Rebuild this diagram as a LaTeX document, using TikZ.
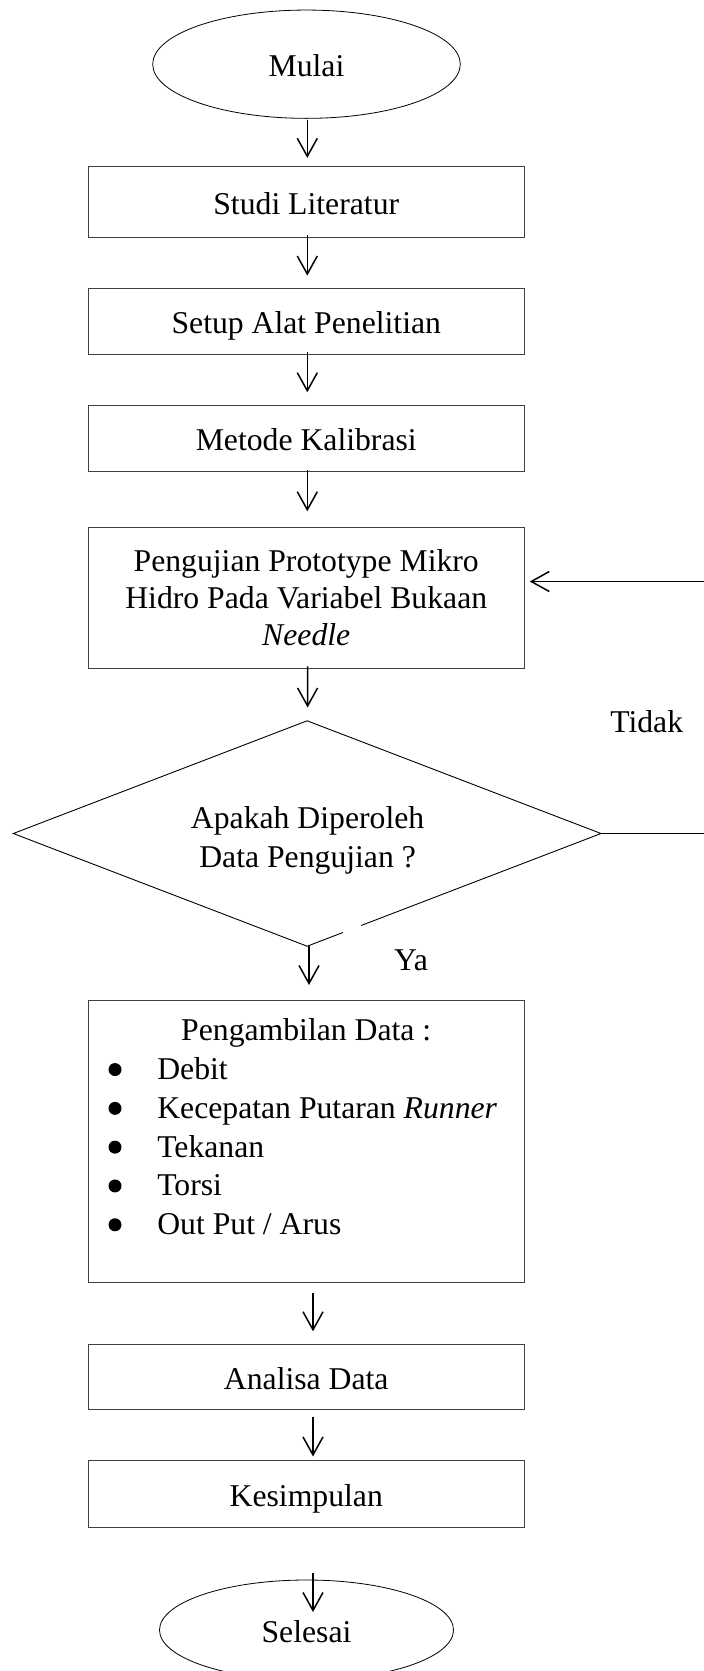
\documentclass[tikz,border=0pt]{standalone}
\usepackage{fontspec}
\setmainfont{Liberation Serif}
\usetikzlibrary{arrows.meta,shapes.geometric,calc}
\newcommand\bigbul{\tikz[baseline=0pt]\fill[black] (0pt,10pt) circle[radius=6.5pt];}
\newcommand\bul[1]{\par\noindent\hspace*{26.5pt}\makebox[0pt][c]{\bigbul}\hspace*{42.3pt}#1}
\begin{document}
\begin{tikzpicture}[x=1pt,y=-1pt,
  font=\fontsize{31.7}{38.5}\selectfont,
  box/.style={draw=black!75, line width=0.9pt, minimum width=435.5pt, inner sep=0pt, align=center},
  oval/.style={ellipse, draw=black, line width=0.8pt, inner sep=0pt},
  one/.style={text height=31.4pt, text depth=7pt},
  arr/.style={line width=1.5pt, -{Straight Barb[length=18pt,width=20pt,line width=1.5pt]}},
  thinline/.style={line width=0.9pt, line join=miter}
]
\useasboundingbox (0,0) rectangle (704,1671);
\fill[white] (0,0) rectangle (704,1671);

% nodes
\node[oval, minimum width=307.6pt, minimum height=108.3pt, one] (m) at (306.5,64.2) {Mulai};
\node[box, minimum height=71pt, one] (b1) at (306.25,202.2) {Studi Literatur};
\node[box, minimum height=66pt, one] (b2) at (306.25,321.3) {Setup Alat Penelitian};
\node[box, minimum height=66pt, one] (b3) at (306.25,438) {Metode Kalibrasi};
\node[box, minimum height=141pt, font=\fontsize{31.7}{36.7}\selectfont] (b4) at (306.25,597.8)
  {Pengujian Prototype Mikro\\Hidro Pada Variabel Bukaan\\\textit{Needle}};
\node[diamond, minimum width=587.3pt, minimum height=225pt, inner sep=0pt] (d) at (307.15,833.5) {};
\node[align=center, font=\fontsize{31.7}{38.7}\selectfont, inner sep=0pt] (dt) at (307.6,840.5)
  {Apakah Diperoleh\\Data Pengujian ?};
\node[box, anchor=north, align=left] (b5) at (306.25,1000) {%
  \begin{minipage}[t][282pt][t]{435.5pt}
  \fontsize{31.7}{38.8}\selectfont
  \vspace*{18.3pt}
  {\centering Pengambilan Data :\par}
  \bul{Debit}
  \bul{Kecepatan Putaran \textit{Runner}}
  \bul{Tekanan}
  \bul{Torsi}
  \bul{Out Put / Arus}\par
  \end{minipage}};
\node[box, minimum height=65.7pt, one] (b6) at (306.25,1376.9) {Analisa Data};
\node[box, minimum height=67pt, one] (b7) at (306.25,1493.9) {Kesimpulan};
\node[oval, minimum width=294pt, minimum height=100pt, one] (se) at (306.5,1630) {Selesai};

\node[one, inner sep=0pt] (ya) at (411,958) {Ya};
\node[one, inner sep=0pt] (tidak) at (646.7,720.5) {Tidak};

% diamond outline with gap
\draw[thinline] ($(d.east)!0.878!(d.south)$) -- (d.south) -- (d.west) -- (d.north) -- (d.east) -- ($(d.east)!0.816!(d.south)$);

% arrows
\draw[arr, shorten <=1pt, shorten >=8.4pt] ([xshift=0.8pt]m.south) -- ([xshift=1.05pt]b1.north);
\draw[arr, shorten <=-2.7pt, shorten >=12.3pt] ([xshift=1.05pt]b1.south) -- ([xshift=1.05pt]b2.north);
\draw[arr, shorten <=-2.6pt, shorten >=12.3pt] ([xshift=1.05pt]b2.south) -- ([xshift=1.05pt]b3.north);
\draw[arr, shorten <=-1pt, shorten >=15.6pt] ([xshift=1.05pt]b3.south) -- ([xshift=1.05pt]b4.north);
\draw[arr, shorten <=-2.3pt, shorten >=13.3pt] ([xshift=1.35pt]b4.south) -- ([xshift=0.45pt]d.north);
\draw[arr, shorten <=0pt, shorten >=15pt] ([xshift=1.85pt]d.south) -- ([xshift=2.75pt]b5.north);
\draw[arr, shorten <=10pt, shorten >=12.3pt] ([xshift=6.75pt]b5.south) -- ([xshift=6.75pt]b6.north);
\draw[arr, shorten <=6.6pt, shorten >=3.5pt] ([xshift=6.75pt]b6.south) -- ([xshift=6.75pt]b7.north);
\draw[arr, shorten <=45.4pt, shorten >=-32.4pt] ([xshift=6.75pt]b7.south) -- ([xshift=6.5pt]se.north);

% loop back (runs off the right edge)
\coordinate (rb) at (704,833.5);
\coordinate (rt) at (704,581.5);
\draw[line width=1.2pt] (d.east) -- (rb);
\draw[arr, shorten >=5.3pt] (rt) -- (rt -| b4.east);
\end{tikzpicture}
\end{document}
